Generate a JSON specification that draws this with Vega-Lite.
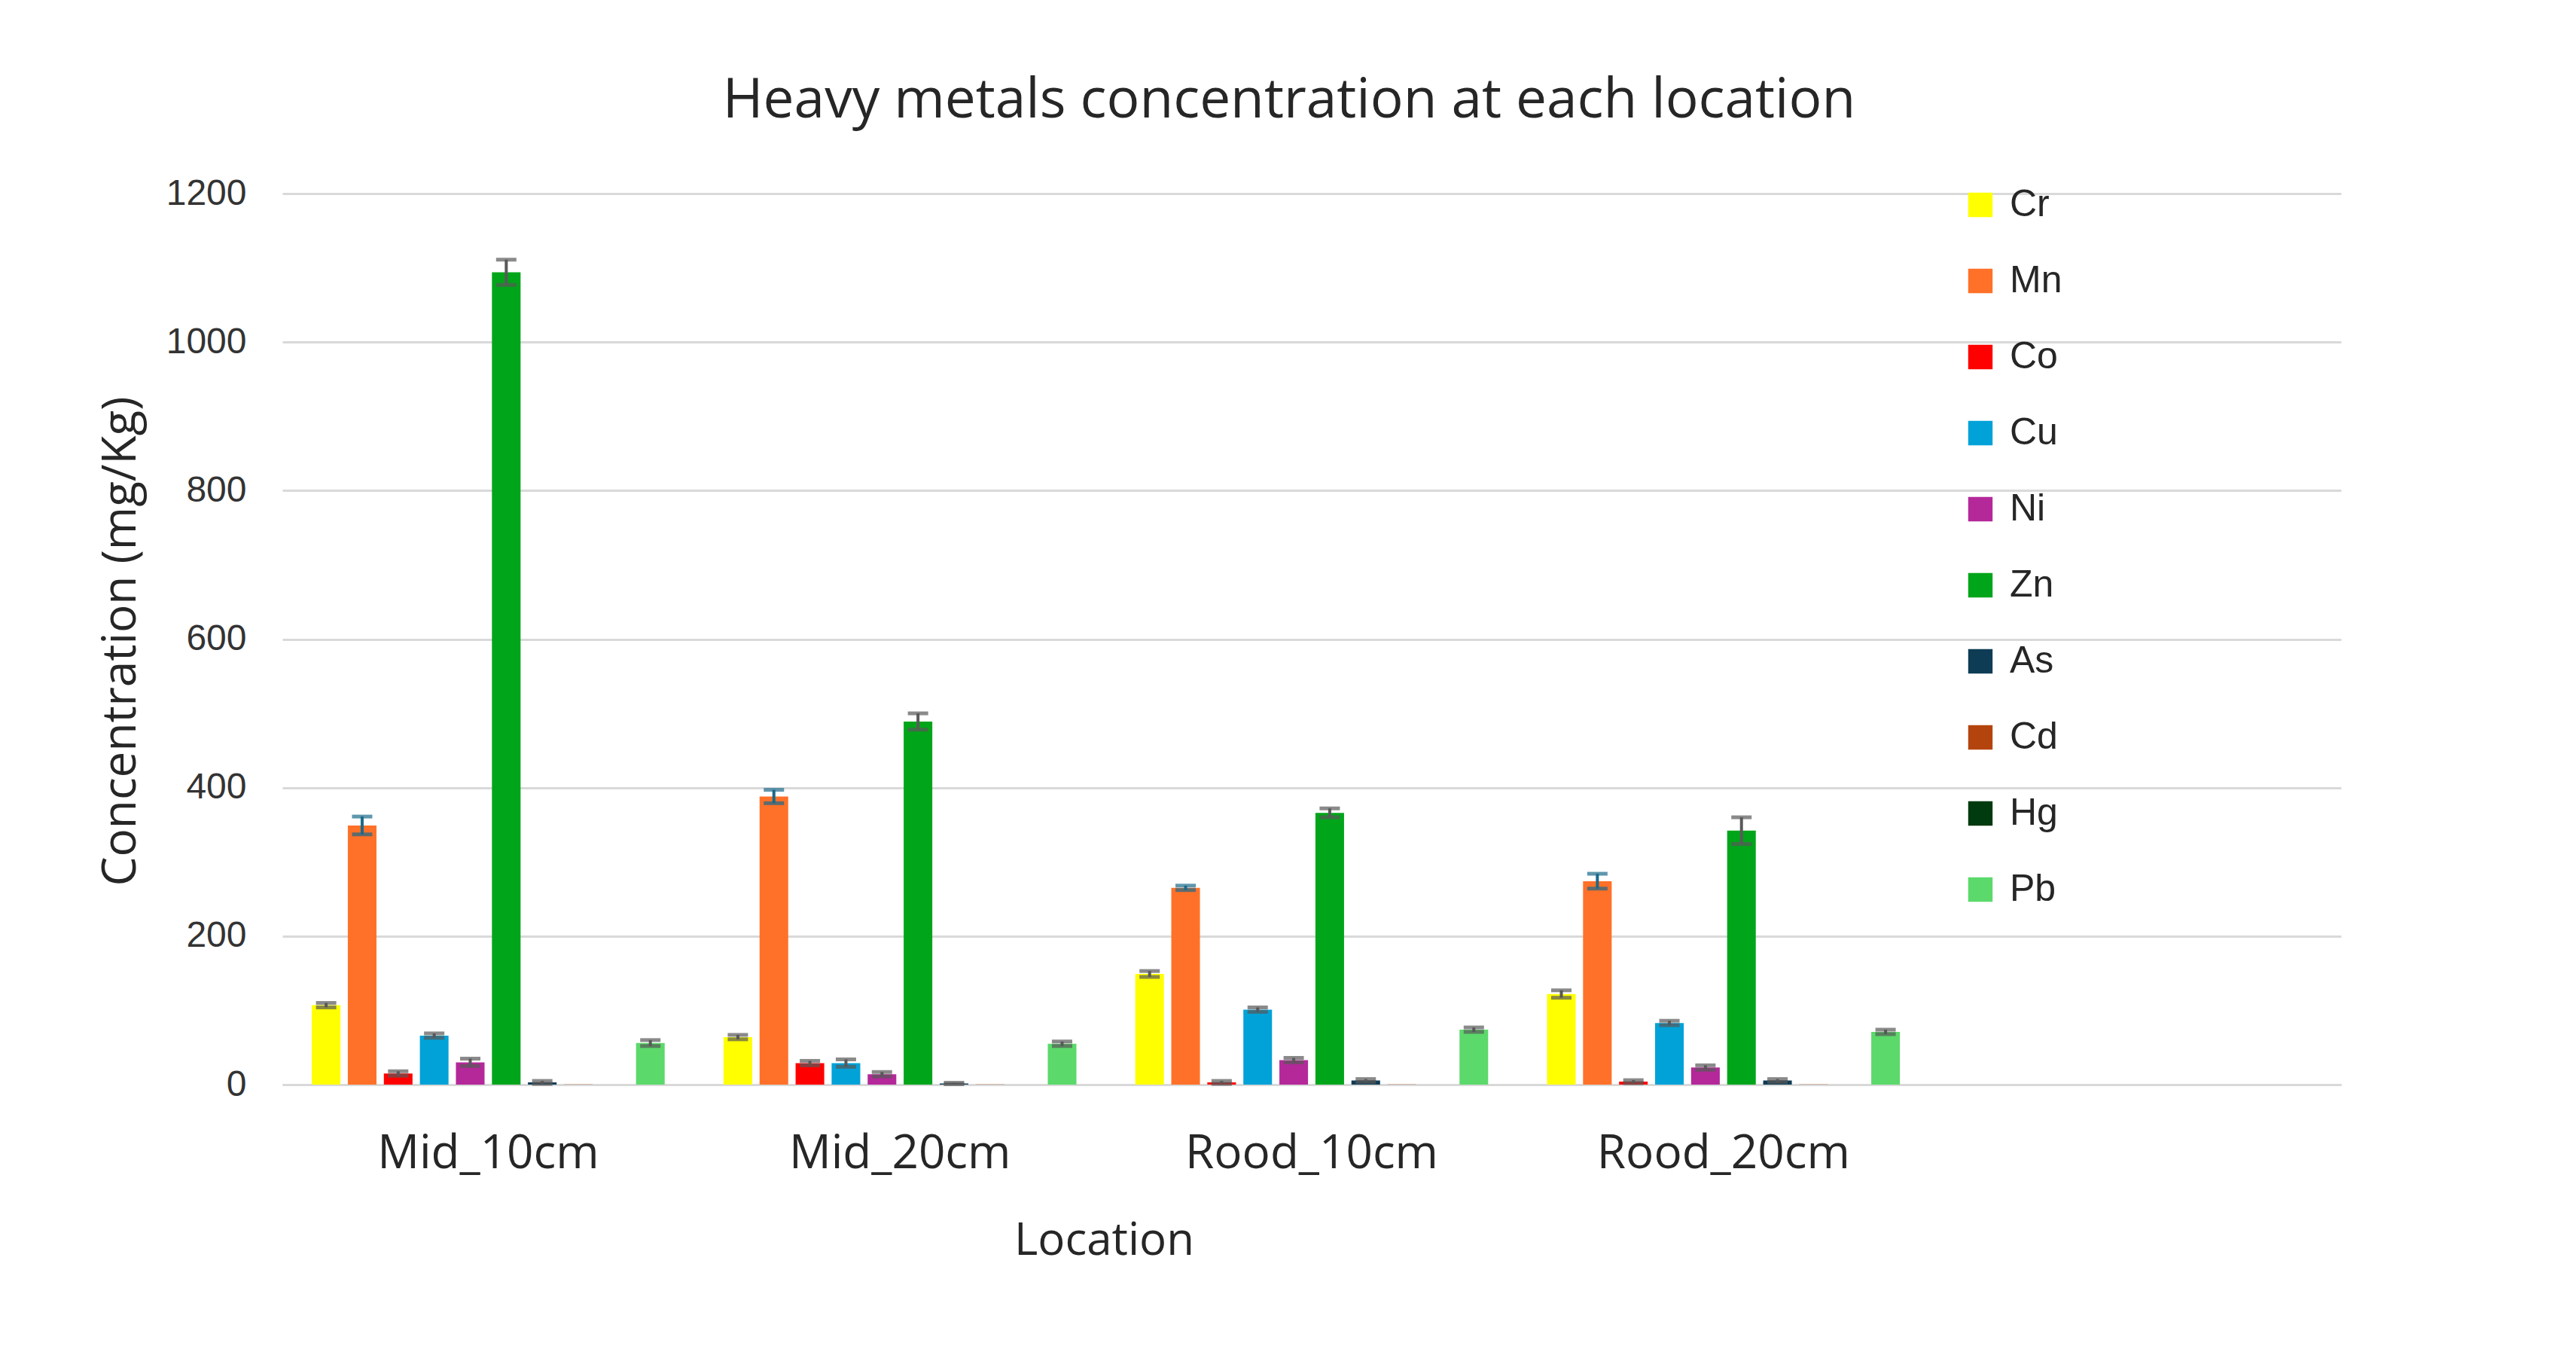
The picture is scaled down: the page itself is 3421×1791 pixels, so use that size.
{
  "$schema": "https://vega.github.io/schema/vega-lite/v6.json",
  "autosize": "none",
  "width": 2734,
  "height": 1183,
  "padding": {"left": 375, "top": 257, "right": 312, "bottom": 351},
  "background": "white",
  "title": {
    "text": "Heavy metals concentration at each location",
    "font": "Open Sans",
    "fontSize": 73,
    "fontWeight": "normal",
    "color": "#262626",
    "anchor": "middle",
    "frame": "group",
    "dx": -30,
    "offset": 62
  },
  "data": {
    "values": [
      {"location": "Mid_10cm", "metal": "Cr", "value": 107, "lo": 104, "hi": 110},
      {"location": "Mid_10cm", "metal": "Mn", "value": 349, "lo": 337, "hi": 361},
      {"location": "Mid_10cm", "metal": "Co", "value": 15, "lo": 12, "hi": 18},
      {"location": "Mid_10cm", "metal": "Cu", "value": 66, "lo": 63, "hi": 69},
      {"location": "Mid_10cm", "metal": "Ni", "value": 30, "lo": 25, "hi": 35},
      {"location": "Mid_10cm", "metal": "Zn", "value": 1094, "lo": 1077, "hi": 1111},
      {"location": "Mid_10cm", "metal": "As", "value": 3, "lo": 1, "hi": 5},
      {"location": "Mid_10cm", "metal": "Cd", "value": 0.3, "lo": null, "hi": null},
      {"location": "Mid_10cm", "metal": "Hg", "value": 0.1, "lo": null, "hi": null},
      {"location": "Mid_10cm", "metal": "Pb", "value": 56, "lo": 52, "hi": 60},
      {"location": "Mid_20cm", "metal": "Cr", "value": 64, "lo": 61, "hi": 67},
      {"location": "Mid_20cm", "metal": "Mn", "value": 388, "lo": 379, "hi": 397},
      {"location": "Mid_20cm", "metal": "Co", "value": 29, "lo": 26, "hi": 32},
      {"location": "Mid_20cm", "metal": "Cu", "value": 29, "lo": 24, "hi": 34},
      {"location": "Mid_20cm", "metal": "Ni", "value": 14, "lo": 11, "hi": 17},
      {"location": "Mid_20cm", "metal": "Zn", "value": 489, "lo": 478, "hi": 500},
      {"location": "Mid_20cm", "metal": "As", "value": 1.5, "lo": 0.5, "hi": 2.5},
      {"location": "Mid_20cm", "metal": "Cd", "value": 0.2, "lo": null, "hi": null},
      {"location": "Mid_20cm", "metal": "Hg", "value": 0.05, "lo": null, "hi": null},
      {"location": "Mid_20cm", "metal": "Pb", "value": 55, "lo": 52, "hi": 58},
      {"location": "Rood_10cm", "metal": "Cr", "value": 149, "lo": 145, "hi": 153},
      {"location": "Rood_10cm", "metal": "Mn", "value": 265, "lo": 262, "hi": 268},
      {"location": "Rood_10cm", "metal": "Co", "value": 3, "lo": 1, "hi": 5},
      {"location": "Rood_10cm", "metal": "Cu", "value": 101, "lo": 98, "hi": 104},
      {"location": "Rood_10cm", "metal": "Ni", "value": 33, "lo": 30, "hi": 36},
      {"location": "Rood_10cm", "metal": "Zn", "value": 366, "lo": 360, "hi": 372},
      {"location": "Rood_10cm", "metal": "As", "value": 5.5, "lo": 3.5, "hi": 7.5},
      {"location": "Rood_10cm", "metal": "Cd", "value": 0.3, "lo": null, "hi": null},
      {"location": "Rood_10cm", "metal": "Hg", "value": 0.05, "lo": null, "hi": null},
      {"location": "Rood_10cm", "metal": "Pb", "value": 74, "lo": 71, "hi": 77},
      {"location": "Rood_20cm", "metal": "Cr", "value": 122, "lo": 117, "hi": 127},
      {"location": "Rood_20cm", "metal": "Mn", "value": 274, "lo": 264, "hi": 284},
      {"location": "Rood_20cm", "metal": "Co", "value": 4, "lo": 2, "hi": 6},
      {"location": "Rood_20cm", "metal": "Cu", "value": 83, "lo": 80, "hi": 86},
      {"location": "Rood_20cm", "metal": "Ni", "value": 23, "lo": 20, "hi": 26},
      {"location": "Rood_20cm", "metal": "Zn", "value": 342, "lo": 324, "hi": 360},
      {"location": "Rood_20cm", "metal": "As", "value": 5.5, "lo": 3.5, "hi": 7.5},
      {"location": "Rood_20cm", "metal": "Cd", "value": 0.3, "lo": null, "hi": null},
      {"location": "Rood_20cm", "metal": "Hg", "value": 0.05, "lo": null, "hi": null},
      {"location": "Rood_20cm", "metal": "Pb", "value": 71, "lo": 68, "hi": 74}
    ]
  },
  "encoding": {
    "x": {
      "field": "location",
      "type": "nominal",
      "scale": {"domain": ["Mid_10cm", "Mid_20cm", "Rood_10cm", "Rood_20cm", " "], "paddingInner": 0, "paddingOuter": 0},
      "axis": {
        "title": "Location",
        "labelAngle": 0,
        "labelLimit": 0,
        "labelFont": "Open Sans",
        "labelFontSize": 62,
        "labelColor": "#262626",
        "labelPadding": 61,
        "ticks": false,
        "domainColor": "#D9D9D9",
        "domainWidth": 3,
        "titleFont": "Open Sans",
        "titleFontSize": 60,
        "titleFontWeight": "normal",
        "titleColor": "#262626",
        "titleX": 1091,
        "titleY": 225,
        "titleAlign": "center",
        "titleBaseline": "alphabetic"
      }
    },
    "xOffset": {
      "field": "metal",
      "type": "nominal",
      "scale": {"domain": ["Cr", "Mn", "Co", "Cu", "Ni", "Zn", "As", "Cd", "Hg", "Pb"], "paddingInner": 0.205, "paddingOuter": 0.817}
    }
  },
  "layer": [
    {
      "mark": {"type": "bar"},
      "encoding": {
        "y": {
          "field": "value",
          "type": "quantitative",
          "scale": {"domain": [0, 1200], "nice": false},
          "axis": {
            "title": "Concentration (mg/Kg)",
            "values": [0, 200, 400, 600, 800, 1000, 1200],
            "format": "d",
            "domain": false,
            "ticks": false,
            "labelFont": "Liberation Sans",
            "labelFontSize": 48,
            "labelColor": "#333333",
            "labelPadding": 48,
            "gridColor": "#D9D9D9",
            "gridWidth": 3,
            "titleFont": "Open Sans",
            "titleFontSize": 62,
            "titleFontWeight": "normal",
            "titleColor": "#262626",
            "titleX": -196,
            "titleY": 594,
            "titleAlign": "center",
            "titleBaseline": "alphabetic"
          }
        },
        "color": {
          "field": "metal",
          "type": "nominal",
          "scale": {
            "domain": ["Cr", "Mn", "Co", "Cu", "Ni", "Zn", "As", "Cd", "Hg", "Pb"],
            "range": ["#FFFF00", "#FF7128", "#FF0000", "#00A2D8", "#B4289A", "#00A51A", "#0E3C55", "#B4440E", "#003A0F", "#5BD96B"]
          },
          "legend": {
            "title": null,
            "orient": "none",
            "legendX": 2230,
            "legendY": -10,
            "padding": 0,
            "symbolType": "square",
            "symbolSize": 1050,
            "symbolStrokeWidth": 0,
            "labelFont": "Liberation Sans",
            "labelFontSize": 50,
            "labelColor": "#262626",
            "labelOffset": 14,
            "rowPadding": 51
          }
        }
      }
    },
    {
      "transform": [{"filter": "datum.lo != null"}],
      "mark": {"type": "rule", "strokeWidth": 4},
      "encoding": {
        "y": {"field": "lo", "type": "quantitative"},
        "y2": {"field": "hi"},
        "color": {"condition": {"test": "datum.metal == 'Mn'", "value": "#1B6A8A"}, "value": "#595959"}
      }
    },
    {
      "transform": [{"filter": "datum.lo != null"}],
      "mark": {"type": "tick", "thickness": 5, "size": 27},
      "encoding": {
        "y": {"field": "lo", "type": "quantitative"},
        "color": {"condition": {"test": "datum.metal == 'Mn'", "value": "#1B6A8A"}, "value": "#595959"}
      }
    },
    {
      "transform": [{"filter": "datum.lo != null"}],
      "mark": {"type": "tick", "thickness": 5, "size": 27},
      "encoding": {
        "y": {"field": "hi", "type": "quantitative"},
        "color": {"condition": {"test": "datum.metal == 'Mn'", "value": "#1B6A8A"}, "value": "#595959"}
      }
    }
  ],
  "config": {
    "view": {"stroke": null}
  }
}
